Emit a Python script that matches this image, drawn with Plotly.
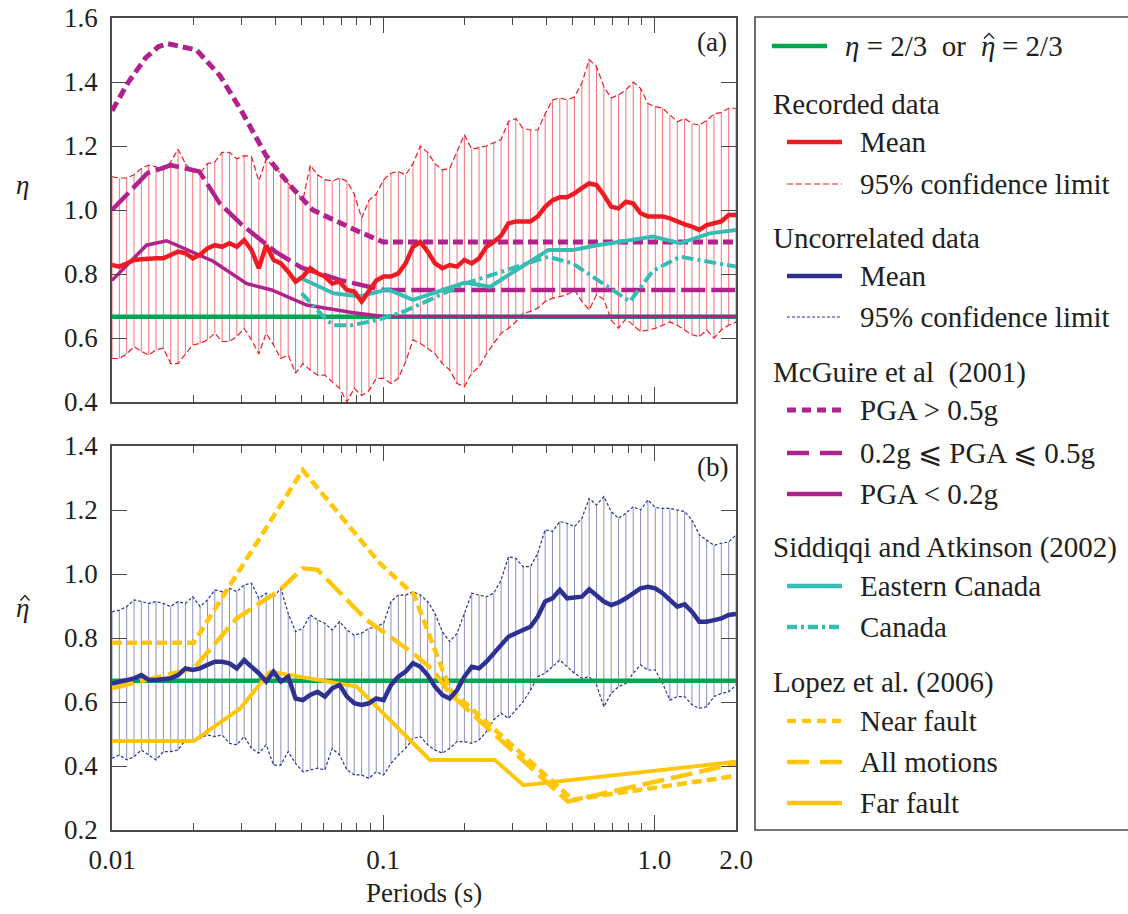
import numpy as np
import plotly.graph_objects as go

# ---------------------------------------------------------------- data
# response-spectrum period grid (s) used by the recorded / uncorrelated sets
periods = np.geomspace(0.01, 2.0, 86)

rec_mean = [0.828, 0.823, 0.833, 0.844, 0.846, 0.849, 0.849, 0.849, 0.86, 0.87,
            0.865, 0.849, 0.86, 0.88, 0.89, 0.885, 0.896, 0.885, 0.906, 0.875,
            0.818, 0.89, 0.844, 0.833, 0.807, 0.776, 0.792, 0.818, 0.802, 0.792,
            0.77, 0.776, 0.75, 0.745, 0.714, 0.745, 0.78, 0.792, 0.792, 0.802,
            0.833, 0.885, 0.90, 0.87, 0.833, 0.818, 0.828, 0.823, 0.844, 0.833,
            0.849, 0.885, 0.90, 0.92, 0.958, 0.964, 0.964, 0.964, 0.98, 1.01,
            1.03, 1.04, 1.04, 1.052, 1.068, 1.083, 1.078, 1.047, 1.01, 1.005,
            1.026, 1.02, 0.99, 0.98, 0.98, 0.98, 0.974, 0.964, 0.955, 0.948,
            0.938, 0.953, 0.958, 0.964, 0.984, 0.984]
rec_upper = [1.104, 1.10, 1.10, 1.11, 1.13, 1.14, 1.135, 1.125, 1.15, 1.19,
             1.145, 1.12, 1.115, 1.145, 1.15, 1.18, 1.18, 1.16, 1.17, 1.167,
             1.09, 1.16, 1.135, 1.115, 1.083, 1.06, 1.03, 1.14, 1.11, 1.095,
             1.09, 1.10, 1.09, 1.05, 0.975, 1.03, 1.05, 1.094, 1.115, 1.12,
             1.11, 1.145, 1.20, 1.18, 1.145, 1.125, 1.13, 1.18, 1.235, 1.19,
             1.195, 1.20, 1.21, 1.22, 1.276, 1.286, 1.255, 1.25, 1.25, 1.30,
             1.344, 1.35, 1.344, 1.354, 1.396, 1.47, 1.448, 1.385, 1.35, 1.36,
             1.375, 1.40, 1.38, 1.333, 1.323, 1.318, 1.297, 1.276, 1.286, 1.27,
             1.265, 1.28, 1.30, 1.305, 1.318, 1.318]
rec_lower = [0.536, 0.536, 0.55, 0.573, 0.558, 0.547, 0.563, 0.568, 0.52, 0.52,
             0.55, 0.578, 0.583, 0.594, 0.615, 0.589, 0.589, 0.605, 0.63, 0.594,
             0.55, 0.615, 0.578, 0.536, 0.547, 0.49, 0.52, 0.50, 0.484, 0.484,
             0.463, 0.443, 0.40, 0.443, 0.42, 0.435, 0.474, 0.474, 0.458, 0.474,
             0.526, 0.594, 0.583, 0.568, 0.55, 0.52, 0.50, 0.458, 0.448, 0.49,
             0.51, 0.55, 0.583, 0.615, 0.63, 0.65, 0.677, 0.683, 0.693, 0.714,
             0.724, 0.73, 0.735, 0.75, 0.714, 0.688, 0.735, 0.72, 0.656, 0.63,
             0.66, 0.64, 0.62, 0.625, 0.63, 0.64, 0.65, 0.64, 0.625, 0.61,
             0.604, 0.625, 0.60, 0.625, 0.64, 0.65]

unc_mean = [0.658, 0.664, 0.669, 0.674, 0.684, 0.669, 0.669, 0.671, 0.674, 0.684,
            0.705, 0.70, 0.705, 0.716, 0.726, 0.726, 0.721, 0.705, 0.731, 0.71,
            0.69, 0.664, 0.695, 0.664, 0.679, 0.611, 0.606, 0.622, 0.632, 0.617,
            0.643, 0.653, 0.617, 0.596, 0.591, 0.596, 0.611, 0.606, 0.653, 0.679,
            0.695, 0.721, 0.71, 0.684, 0.648, 0.622, 0.611, 0.637, 0.679, 0.71,
            0.705, 0.726, 0.752, 0.783, 0.804, 0.815, 0.825, 0.835, 0.867, 0.914,
            0.924, 0.95, 0.924, 0.926, 0.929, 0.952, 0.934, 0.914, 0.903, 0.911,
            0.924, 0.94, 0.955, 0.96, 0.955, 0.94, 0.919, 0.898, 0.905, 0.882,
            0.851, 0.851, 0.856, 0.861, 0.872, 0.875]
unc_upper = [0.882, 0.887, 0.898, 0.919, 0.914, 0.908, 0.914, 0.908, 0.898, 0.914,
             0.908, 0.929, 0.898, 0.919, 0.95, 0.945, 0.955, 0.945, 0.966, 0.971,
             0.924, 0.94, 0.929, 0.955, 0.877, 0.82, 0.83, 0.872, 0.856, 0.846,
             0.825, 0.851, 0.825, 0.809, 0.815, 0.83, 0.835, 0.846, 0.914, 0.934,
             0.934, 0.945, 0.934, 0.914, 0.877, 0.82, 0.789, 0.815, 0.877, 0.94,
             0.934, 0.929, 0.94, 0.981, 1.054, 1.049, 1.023, 1.023, 1.065, 1.138,
             1.133, 1.164, 1.158, 1.148, 1.174, 1.236, 1.216, 1.242, 1.195, 1.174,
             1.19, 1.21, 1.20, 1.231, 1.208, 1.205, 1.205, 1.20, 1.195, 1.169,
             1.122, 1.106, 1.09, 1.096, 1.10, 1.122]
unc_lower = [0.424, 0.434, 0.419, 0.429, 0.45, 0.434, 0.419, 0.445, 0.445, 0.45,
             0.481, 0.476, 0.486, 0.497, 0.492, 0.497, 0.471, 0.466, 0.492, 0.455,
             0.44, 0.466, 0.403, 0.403, 0.445, 0.408, 0.382, 0.388, 0.393, 0.388,
             0.455, 0.434, 0.388, 0.372, 0.372, 0.361, 0.382, 0.372, 0.408, 0.434,
             0.455, 0.486, 0.492, 0.466, 0.45, 0.44, 0.455, 0.476, 0.476, 0.471,
             0.481, 0.507, 0.544, 0.565, 0.549, 0.575, 0.601, 0.637, 0.679, 0.69,
             0.71, 0.731, 0.71, 0.69, 0.674, 0.679, 0.653, 0.585, 0.627, 0.648,
             0.658, 0.69, 0.716, 0.70, 0.70, 0.658, 0.606, 0.617, 0.617, 0.591,
             0.58, 0.585, 0.617, 0.627, 0.632, 0.653]

# McGuire et al. (2001)
mcg_hi_T = [0.01, 0.0115, 0.0133, 0.0148, 0.016, 0.0205, 0.025, 0.03, 0.037,
            0.045, 0.055, 0.065, 0.08, 0.1, 2.0]
mcg_hi = [1.31, 1.40, 1.475, 1.51, 1.52, 1.50, 1.42, 1.31, 1.17,
          1.08, 1.00, 0.97, 0.935, 0.90, 0.90]
mcg_mid_T = [0.01, 0.012, 0.0135, 0.0165, 0.021, 0.025, 0.03, 0.04, 0.05, 0.07, 0.1, 2.0]
mcg_mid = [1.00, 1.07, 1.115, 1.14, 1.12, 1.02, 0.955, 0.87, 0.82, 0.78, 0.75, 0.75]
mcg_lo_T = [0.01, 0.0134, 0.0159, 0.0236, 0.0314, 0.0388, 0.0522, 0.0766, 0.1, 2.0]
mcg_lo = [0.78, 0.89, 0.904, 0.84, 0.77, 0.75, 0.703, 0.68, 0.667, 0.667]

# Siddiqqi and Atkinson (2002)
sid_east_T = [0.0501, 0.0656, 0.0818, 0.104, 0.1288, 0.2003, 0.2478, 0.4064,
              0.502, 0.617, 0.988, 1.243, 1.60, 2.0]
sid_east = [0.786, 0.74, 0.73, 0.752, 0.719, 0.773, 0.76, 0.875,
            0.875, 0.89, 0.917, 0.896, 0.927, 0.9375]
sid_can_T = [0.05, 0.062, 0.0654, 0.0766, 0.095, 0.1185, 0.1526, 0.2, 0.406,
             0.50, 0.813, 0.988, 1.243, 2.0]
sid_can = [0.74, 0.656, 0.64, 0.64, 0.656, 0.682, 0.724, 0.77, 0.854,
           0.833, 0.714, 0.81, 0.854, 0.823]

# Lopez et al. (2006)
near_T = [0.01, 0.02, 0.0505, 0.0973, 0.13, 0.176, 0.5, 2.0]
near = [0.785, 0.785, 1.325, 1.033, 0.935, 0.64, 0.295, 0.369]
allm_T = [0.01, 0.02, 0.0288, 0.0416, 0.0505, 0.0573, 0.0869, 0.1292, 0.1527,
          0.176, 0.48, 2.0]
allm = [0.643, 0.705, 0.861, 0.95, 1.018, 1.013, 0.856, 0.752, 0.70,
        0.627, 0.289, 0.408]
far_T = [0.01, 0.02, 0.0297, 0.0383, 0.0798, 0.0973, 0.1486, 0.258, 0.329, 2.0]
far = [0.478, 0.478, 0.58, 0.695, 0.648, 0.575, 0.419, 0.419, 0.34, 0.413]

ref_T = [0.01, 2.0]
ref_eta = [2 / 3, 2 / 3]

x_ticks = [0.01, 0.1, 1.0, 2.0]
x_tick_text = ["0.01", "0.1", "1.0", "2.0"]
x_minor = [0.02, 0.03, 0.04, 0.05, 0.06, 0.07, 0.08, 0.09,
           0.2, 0.3, 0.4, 0.5, 0.6, 0.7, 0.8, 0.9]

# ---------------------------------------------------------------- styling
W, H = 1128, 914
FONT = "Liberation Serif, Times New Roman, Tinos, serif"
TXT = "#231F20"
AX = "#4A4A4A"
RED = "#ED1C24"
BLUE = "#2E3192"
GREEN = "#00A651"
PURPLE = "#B0228C"
TEAL = "#35BDB3"
GOLD = "#FFC60B"


def fx(px):
    return px / W


def fy(py):
    return 1 - py / H


def hatch(xs, lo, hi):
    hx, hy = [], []
    for t, a, b in zip(xs, lo, hi):
        hx += [t, t, None]
        hy += [a, b, None]
    return hx, hy


def line(x, y, color, width, dash="solid", axes=("x", "y")):
    return go.Scatter(x=x, y=y, mode="lines", xaxis=axes[0], yaxis=axes[1],
                      line=dict(color=color, width=width, dash=dash),
                      hoverinfo="skip", showlegend=False)


fig = go.Figure()

# ---- panel (a): recorded data
hx, hy = hatch(periods, rec_lower, rec_upper)
fig.add_trace(line(hx, hy, "rgba(237,28,36,0.62)", 1))
fig.add_trace(line(periods, rec_upper, RED, 1.2, "6px,3px"))
fig.add_trace(line(periods, rec_lower, RED, 1.2, "6px,3px"))
fig.add_trace(line(ref_T, ref_eta, GREEN, 4.5))
fig.add_trace(line(mcg_hi_T, mcg_hi, PURPLE, 5, "10px,5px"))
fig.add_trace(line(mcg_mid_T, mcg_mid, PURPLE, 4.5, "24px,6px"))
fig.add_trace(line(mcg_lo_T, mcg_lo, PURPLE, 3.5))
fig.add_trace(line(sid_can_T, sid_can, TEAL, 4, "12px,4px,3px,4px"))
fig.add_trace(line(sid_east_T, sid_east, TEAL, 4))
fig.add_trace(line(periods, rec_mean, RED, 4.5))

# ---- panel (b): uncorrelated data
b = ("x2", "y2")
hx, hy = hatch(periods, unc_lower, unc_upper)
fig.add_trace(line(hx, hy, "rgba(46,49,146,0.55)", 1, axes=b))
fig.add_trace(line(periods, unc_upper, BLUE, 1.2, "3px,2px", axes=b))
fig.add_trace(line(periods, unc_lower, BLUE, 1.2, "3px,2px", axes=b))
fig.add_trace(line(ref_T, ref_eta, GREEN, 4.5, axes=b))
fig.add_trace(line(far_T, far, GOLD, 4, axes=b))
fig.add_trace(line(allm_T, allm, GOLD, 4.5, "22px,7px", axes=b))
fig.add_trace(line(near_T, near, GOLD, 4.5, "10px,5px", axes=b))
fig.add_trace(line(periods, unc_mean, BLUE, 4.5, axes=b))

# ---------------------------------------------------------------- axes
tickfont = dict(family=FONT, size=27, color=TXT)
xcommon = dict(type="log", range=[-2, np.log10(2.0)], domain=[fx(112), fx(736)],
               automargin=False,
               showline=True, linecolor=AX, linewidth=1.6, mirror="ticks",
               ticks="inside", ticklen=15, tickwidth=1.4, tickcolor=AX,
               tickmode="array", tickvals=x_ticks, ticktext=x_tick_text,
               showgrid=False, zeroline=False, tickfont=tickfont,
               minor=dict(ticks="inside", ticklen=7, tickwidth=1.4, tickcolor=AX,
                          tickmode="array", tickvals=x_minor, showgrid=False))
ycommon = dict(automargin=False,
               showline=True, linecolor=AX, linewidth=1.6, mirror="ticks",
               ticks="inside", ticklen=15, tickwidth=1.4, tickcolor=AX,
               dtick=0.2, tickformat=".1f", showgrid=False, zeroline=False,
               tickfont=tickfont, ticklabelstandoff=7)

fig.update_layout(
    width=W, height=H,
    margin=dict(l=0, r=0, t=0, b=0, autoexpand=False),
    paper_bgcolor="white", plot_bgcolor="white",
    showlegend=False,
    xaxis=dict(xcommon, anchor="y", showticklabels=False),
    yaxis=dict(ycommon, anchor="x", range=[0.4, 1.6], tick0=0.4,
               domain=[fy(402), fy(18)]),
    xaxis2=dict(xcommon, anchor="y2", ticklabelstandoff=5),
    yaxis2=dict(ycommon, anchor="x2", range=[0.2, 1.4], tick0=0.2,
                domain=[fy(830), fy(446)]),
)

# ---------------------------------------------------------------- labels
ann = []
shapes = []


def text(px, py, s, size=27, xanchor="left"):
    ann.append(dict(x=fx(px), y=fy(py), xref="paper", yref="paper", text=s,
                    showarrow=False, xanchor=xanchor, yanchor="middle",
                    font=dict(family=FONT, size=size, color=TXT)))


def hat(cx, cy, w=9, h=5):
    # circumflex accent drawn as a small caret over a symbol
    path = (f"M {fx(cx - w / 2)},{fy(cy + h / 2)} L {fx(cx)},{fy(cy - h / 2)} "
            f"L {fx(cx + w / 2)},{fy(cy + h / 2)}")
    shapes.append(dict(type="path", xref="paper", yref="paper", path=path,
                       line=dict(color=TXT, width=1.4)))


text(22, 185, "<i>η</i>", xanchor="center")
text(22, 608, "<i>η</i>", xanchor="center")
hat(25, 598)
text(424, 893, "Periods (s)", xanchor="center")
text(712, 42, "(a)", xanchor="center")
text(712, 467, "(b)", xanchor="center")

# ---------------------------------------------------------------- key box
shapes.append(dict(type="rect", xref="paper", yref="paper",
                   x0=fx(755), x1=fx(1140), y0=fy(830), y1=fy(17),
                   line=dict(color=AX, width=1.6), fillcolor="rgba(0,0,0,0)"))


def key_line(x0, x1, py, color, width, dash="solid"):
    shapes.append(dict(type="line", xref="paper", yref="paper",
                       x0=fx(x0), x1=fx(x1), y0=fy(py), y1=fy(py),
                       line=dict(color=color, width=width, dash=dash)))


LS = 29
key_line(772, 827, 46, GREEN, 4.5)
text(843, 46, "<i>η</i> = 2/3  or", size=LS)
text(979, 46, "<i>η</i>", size=LS)
hat(989, 36, w=10, h=5)
text(1000, 46, "= 2/3", size=LS)

groups = [
    (104, "Recorded data"),
    (238, "Uncorrelated data"),
    (372, "McGuire et al  (2001)"),
    (547, "Siddiqqi and Atkinson (2002)"),
    (682, "Lopez et al. (2006)"),
]
for py, s in groups:
    text(771, py, s, size=LS)

items = [
    (142, "Mean", RED, 4.5, "solid"),
    (184, "95% confidence limit", RED, 1.2, "6px,3px"),
    (276, "Mean", BLUE, 4.5, "solid"),
    (317, "95% confidence limit", BLUE, 1.2, "3px,2px"),
    (410, "PGA > 0.5g", PURPLE, 5, "9px,6px"),
    (453, "0.2g ⩽ PGA ⩽ 0.5g", PURPLE, 4.5, "22px,11px"),
    (494, "PGA < 0.2g", PURPLE, 4.5, "solid"),
    (586, "Eastern Canada", TEAL, 4.5, "solid"),
    (627, "Canada", TEAL, 4.5, "10px,4px,3px,4px"),
    (721, "Near fault", GOLD, 4.5, "9px,6px"),
    (762, "All motions", GOLD, 4.5, "22px,11px"),
    (803, "Far fault", GOLD, 4.5, "solid"),
]
for py, s, c, w, d in items:
    key_line(787, 842, py, c, w, d)
    text(858, py, s, size=LS)

fig.update_layout(annotations=ann, shapes=shapes)
fig.write_html("out.html")
